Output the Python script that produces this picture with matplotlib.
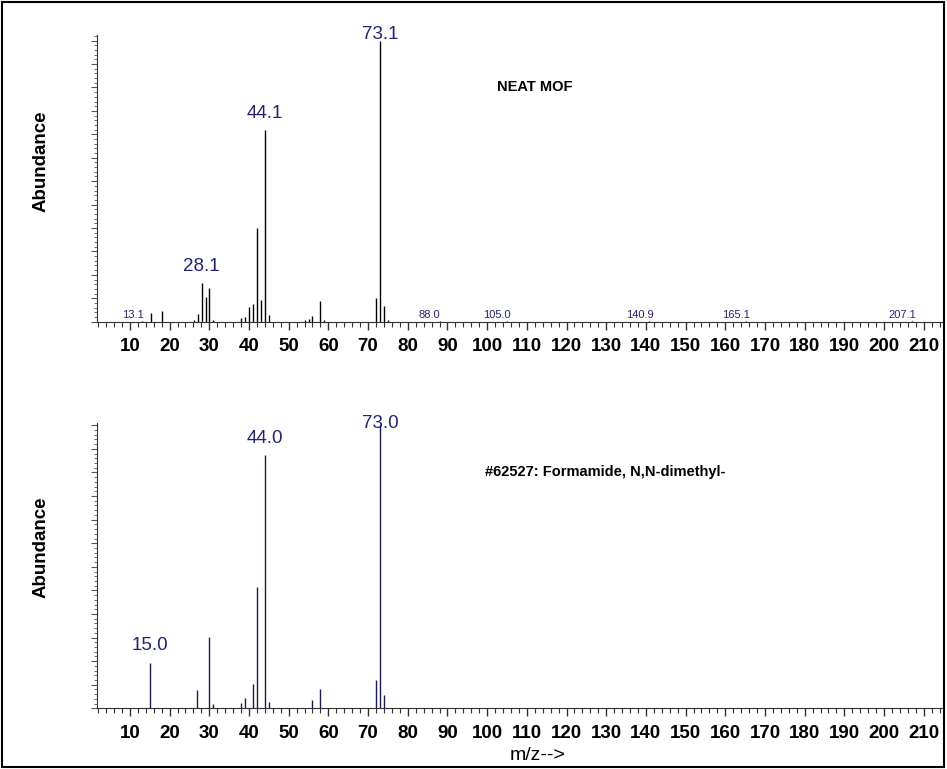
import matplotlib
matplotlib.use("Agg")
import matplotlib.pyplot as plt
from matplotlib.ticker import MultipleLocator

plt.rcParams['font.family'] = ['Liberation Sans', 'DejaVu Sans']

# 上段: NEAT MOF の測定スペクトル
neat_mz = [13.1, 15.2, 18.1, 26.2, 27.1, 28.1, 29.1, 30.0, 31.0, 38.1, 39.1, 40.1,
           41.0, 42.0, 43.1, 44.1, 45.1, 54.0, 55.0, 56.0, 58.0, 59.0, 72.0, 73.1,
           74.0, 75.0, 88.0, 105.0, 140.9, 165.1, 207.1]
neat_ab = [0.3, 3.2, 3.8, 0.6, 2.6, 13.6, 8.9, 12.1, 0.7, 1.4, 1.8, 5.3,
           6.2, 33.5, 7.7, 68.2, 2.4, 0.6, 0.9, 2.1, 7.4, 0.6, 8.5, 100.0,
           5.6, 0.6, 0.3, 0.3, 0.3, 0.3, 0.3]
neat_big = ["28.1", "44.1", "73.1"]
neat_small = ["13.1", "88.0", "105.0", "140.9", "165.1", "207.1"]

# 下段: ライブラリ #62527 (DMF)
lib_mz = [15.0, 27.0, 30.0, 31.0, 38.0, 39.0, 41.0, 42.0, 44.0, 45.0, 56.0, 58.0,
          72.0, 73.0, 74.0]
lib_ab = [16.1, 6.5, 25.1, 1.4, 2.0, 3.8, 8.5, 42.8, 89.5, 2.4, 2.9, 6.8,
          10.0, 100.0, 4.6]
lib_big = ["15.0", "44.0", "73.0"]

xticks = list(range(10, 220, 10))

navy = '#22227a'
tick_font = dict(weight='bold', size=13.5)

fig = plt.figure(figsize=(9.47, 7.69), dpi=100)


def setup(ax, ytop, ylab_y):
    ax.set_xlim(1.7, 215)
    ax.set_ylim(0, ytop)
    for s in ['top', 'right']:
        ax.spines[s].set_visible(False)
    ax.spines['left'].set_color('#333333')
    ax.spines['bottom'].set_color('#333333')
    ax.set_xticks(xticks)
    ax.set_xticklabels([str(t) for t in xticks], fontdict=tick_font)
    ax.xaxis.set_minor_locator(MultipleLocator(2))
    ax.yaxis.set_major_locator(MultipleLocator(100 / 12))
    ax.yaxis.set_minor_locator(MultipleLocator(100 / 60))
    ax.set_yticklabels([])
    ax.tick_params(axis='x', which='major', length=6, width=1, pad=6, color='#333333')
    ax.tick_params(axis='x', which='minor', length=3.5, width=0.8, color='#333333')
    ax.tick_params(axis='y', which='major', length=4, width=0.8, color='#555555')
    ax.tick_params(axis='y', which='minor', length=2.5, width=0.6, color='#555555')
    ax.set_ylabel('Abundance', fontsize=13.5, fontweight='bold')
    ax.yaxis.set_label_coords(-0.056, ylab_y)


def big_labels(ax, mz, ab, labels):
    top = max(ab)
    for lab in labels:
        i = min(range(len(mz)), key=lambda k: abs(mz[k] - float(lab)))
        if ab[i] == top:
            ax.annotate(lab, (mz[i], 1.0), xycoords=('data', 'axes fraction'),
                        ha='center', va='center', fontsize=13.5, color=navy,
                        annotation_clip=False)
        else:
            ax.annotate(lab, (mz[i], ab[i]), xytext=(0, 6), textcoords='offset points',
                        ha='center', va='bottom', fontsize=13.5, color=navy)


# 上段
ax1 = fig.add_axes([0.1024, 0.5817, 0.894, 0.3728])
ax1.vlines(neat_mz, 0, neat_ab, color='k', lw=1.0)
setup(ax1, 102, 0.56)
big_labels(ax1, neat_mz, neat_ab, neat_big)
for lab in neat_small:
    ax1.annotate(lab, (float(lab), 0), xytext=(-7, 1.5), textcoords='offset points',
                 ha='center', va='bottom', fontsize=8, color=navy)
ax1.text(0.517, 0.82, 'NEAT MOF', transform=ax1.transAxes, ha='center', va='center',
         fontsize=10.5, fontweight='bold')

# 下段
ax2 = fig.add_axes([0.1024, 0.0789, 0.894, 0.371])
ax2.vlines(lib_mz, 0, lib_ab, color='#1a1a55', lw=1.0)
setup(ax2, 100.8, 0.565)
big_labels(ax2, lib_mz, lib_ab, lib_big)
ax2.text(0.458, 0.83, '#62527: Formamide, N,N-dimethyl-', transform=ax2.transAxes,
         ha='left', va='center', fontsize=10.5, fontweight='bold')
ax2.set_xlabel('m/z-->', fontsize=14)
ax2.xaxis.set_label_coords(0.52, -0.135)

# 外枠
fig.add_artist(plt.Rectangle((0.0021, 0.0026), 0.9947, 0.9948, transform=fig.transFigure,
                             fill=False, lw=1.5, ec='k'))

fig.savefig('out.png', dpi=100)
